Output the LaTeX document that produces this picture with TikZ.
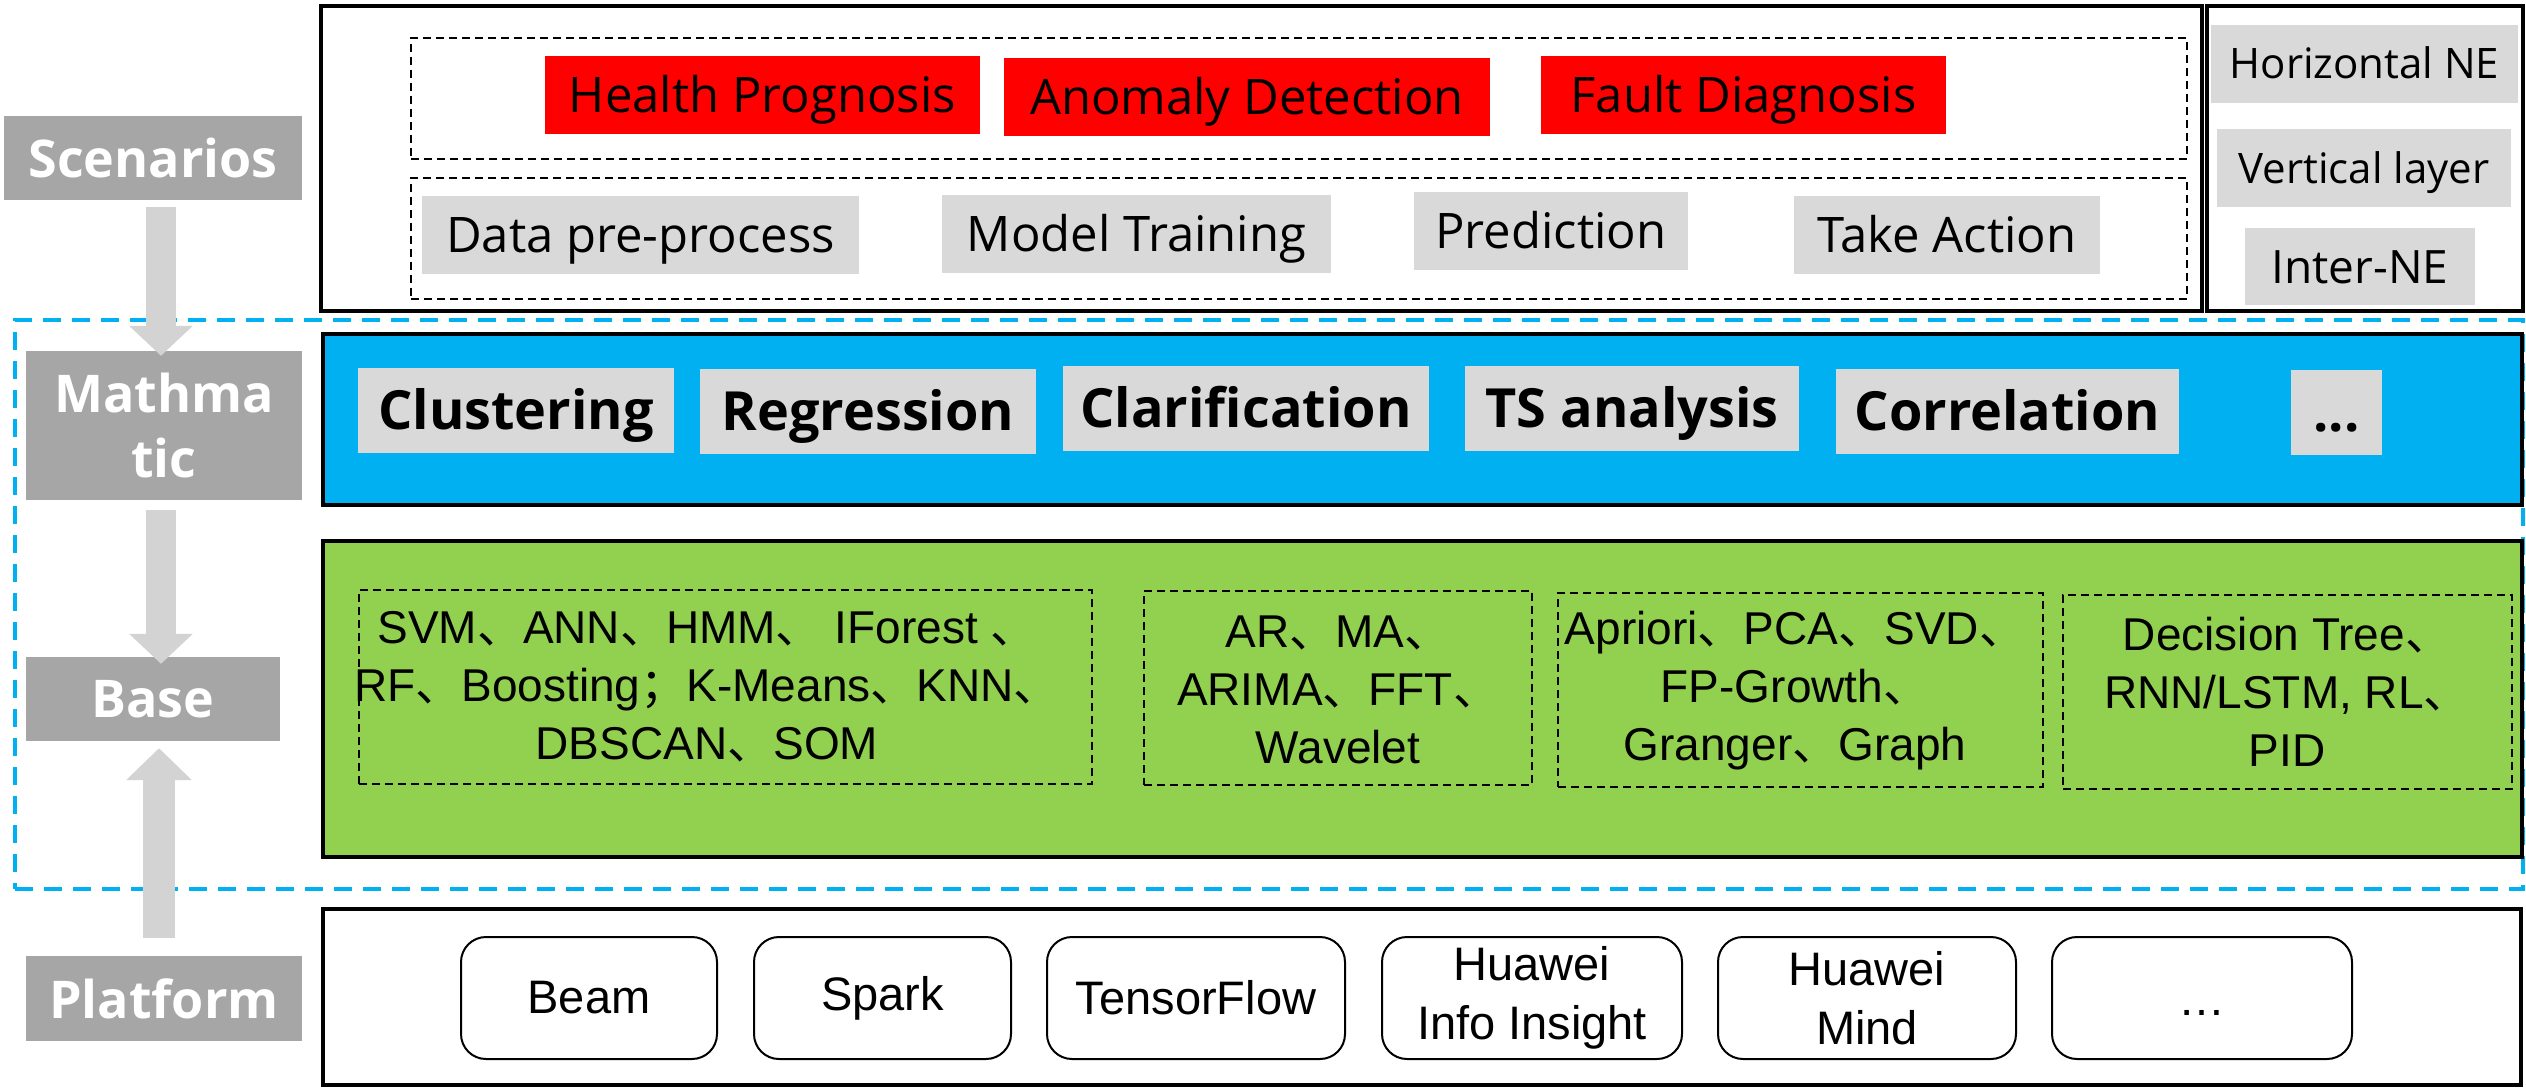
\documentclass[tikz,border=0pt]{standalone}
\usepackage{fontspec}
\setmainfont{Liberation Sans}
\newfontfamily\yahei{Open Sans}
\newfontfamily\cjkf{Noto Sans CJK SC}
\usetikzlibrary{arrows.meta}
\definecolor{redbox}{HTML}{FF0000}
\definecolor{lgray}{HTML}{D9D9D9}
\definecolor{lblgray}{HTML}{A6A6A6}
\definecolor{mlblue}{HTML}{00B0F0}
\definecolor{mlgreen}{HTML}{92D050}
\definecolor{arrowgray}{HTML}{D3D3D3}
\newcommand{\dunh}{{\cjkf 、}}
\newcommand{\fsemi}{{\cjkf ；}}
\tikzset{
  mainbox/.style={draw=black, line width=4pt, inner sep=0pt, outer sep=0pt},
  dashbox/.style={draw=black, line width=1.8pt, dash pattern=on 8pt off 5pt, inner sep=0pt, outer sep=0pt},
  redlbl/.style={fill=redbox, inner sep=0pt, minimum height=78pt, text height=35pt, text depth=0pt, font=\yahei\fontsize{49}{58}\selectfont},
  graylbl/.style={fill=lgray, inner sep=0pt, minimum height=78pt, text height=35pt, text depth=0pt, font=\yahei\fontsize{49}{58}\selectfont},
  nelbl/.style={fill=lgray, inner sep=0pt, minimum height=78pt, text height=30pt, text depth=0pt, font=\yahei\fontsize{42}{50}\selectfont},
  mathlbl/.style={fill=lgray, inner sep=0pt, minimum height=85pt, text height=38.5pt, text depth=0pt, font=\yahei\bfseries\fontsize{54}{64}\selectfont},
  sidelbl/.style={fill=lblgray, text=white, inner sep=0pt, align=center, font=\yahei\bfseries\fontsize{52}{65}\selectfont},
  platbox/.style={draw=black, line width=2pt, rounded corners=25pt, inner sep=0pt, minimum height=122pt, align=center, font=\fontsize{47}{59}\selectfont},
  algtext/.style={align=center, inner sep=0pt, font=\fontsize{46}{58}\selectfont},
  bluedash/.style={draw=mlblue, line width=4pt, dash pattern=on 18pt off 11pt, inner sep=0pt, outer sep=0pt},
  blockarrow/.style={draw=arrowgray, line width=30pt, -{Triangle[width=62pt,length=30pt]}}
}
\begin{document}
\begin{tikzpicture}[x=1pt,y=-1pt]
\useasboundingbox (0,0) rectangle (2526,1089);
% ML zone (dashed blue)
\node[bluedash, minimum width=2508pt, minimum height=569pt] (mlzone) at (1269,604.5) {};
% Scenarios layer
\node[mainbox, minimum width=1881pt, minimum height=305pt] (scenframe) at (1261.5,158.5) {};
\node[mainbox, minimum width=316pt, minimum height=305pt] (neframe) at (2365,158.5) {};
\node[dashbox, minimum width=1776pt, minimum height=121pt] (goalrow) at (1299,98.5) {};
\node[dashbox, minimum width=1776pt, minimum height=121pt] (steprow) at (1299,238.5) {};
\node[redlbl, minimum width=435pt] (hp) at (762.5,95) {Health Prognosis};
\node[redlbl, minimum width=486pt] (ad) at (1247,97) {Anomaly Detection};
\node[redlbl, minimum width=405pt] (fd) at (1743.5,95) {Fault Diagnosis};
\node[graylbl, minimum width=437pt] (dp) at (640.5,235) {Data pre-process};
\node[graylbl, minimum width=389pt] (mt) at (1136.5,234) {Model Training};
\node[graylbl, minimum width=274pt] (pr) at (1551,231) {Prediction};
\node[graylbl, minimum width=306pt] (ta) at (1947,235) {Take Action};
\node[nelbl, minimum width=307pt] (hne) at (2364.5,64) {Horizontal NE};
\node[nelbl, minimum width=294pt] (vl) at (2364,168) {Vertical layer};
\node[nelbl, minimum width=230pt, minimum height=77pt, text height=33pt, font=\yahei\fontsize{46}{54}\selectfont] (ine) at (2360,266.5) {Inter-NE};
% Mathematic layer
\node[mainbox, fill=mlblue, minimum width=2199pt, minimum height=171pt] (mathframe) at (1422.5,419.5) {};
\node[mathlbl, minimum width=316pt] (clu) at (516,410.5) {Clustering};
\node[mathlbl, minimum width=336pt] (reg) at (868,411) {Regression};
\node[mathlbl, minimum width=366pt] (cla) at (1246,408.5) {Clarification};
\node[mathlbl, minimum width=334pt] (tsa) at (1632,408.5) {TS analysis};
\node[mathlbl, minimum width=343pt] (cor) at (2007.5,411) {Correlation};
\node[mathlbl, minimum width=91pt] (mdots) at (2336.5,412) {...};
% Base layer
\node[mainbox, fill=mlgreen, minimum width=2199pt, minimum height=316pt] (baseframe) at (1422.5,699) {};
\node[dashbox, minimum width=733pt, minimum height=194pt] (alg1) at (725.5,687) {};
\node[dashbox, minimum width=388pt, minimum height=194pt] (alg2) at (1338,688) {};
\node[dashbox, minimum width=485pt, minimum height=194pt] (alg3) at (1800.5,690) {};
\node[dashbox, minimum width=449pt, minimum height=194pt] (alg4) at (2287.5,692) {};
\node[algtext] (alg1t) at (707,687) {SVM\dunh ANN\dunh HMM\dunh\ IForest \dunh\\RF\dunh Boosting\fsemi K-Means\dunh KNN\dunh\\DBSCAN\dunh SOM};
\node[algtext] (alg2t) at (1338,690) {AR\dunh MA\dunh\\ARIMA\dunh FFT\dunh\\Wavelet};
\node[algtext] (alg3t) at (1795,691) {Apriori\dunh PCA\dunh SVD\dunh\\FP-Growth\dunh\\Granger\dunh Graph};
\node[algtext] (alg4t) at (2287,692) {Decision Tree\dunh\\RNN/LSTM, RL\dunh\\PID};
% Platform layer
\node[mainbox, minimum width=2198pt, minimum height=176pt] (platframe) at (1422,997) {};
\node[platbox, minimum width=256pt] (beam) at (589,998) {Beam};
\node[platbox, minimum width=257pt] (spark) at (882.5,998) {Spark};
\node[platbox, minimum width=298pt] (tf) at (1196,998) {TensorFlow};
\node[platbox, minimum width=300pt] (hii) at (1532,998) {Huawei\\Info Insight};
\node[platbox, minimum width=298pt] (hm) at (1867,998) {Huawei\\Mind};
\node[platbox, minimum width=300pt, text height=34pt, text depth=0pt] (pdots) at (2202,998) {\ldots};
% Left labels
\node[sidelbl, minimum width=298pt, minimum height=84pt] (scen) at (153,158) {Scenarios};
\node[sidelbl, minimum width=276pt, minimum height=149pt] (math) at (164,425.5) {Mathma\\tic};
\node[sidelbl, minimum width=254pt, minimum height=84pt] (base) at (153,699) {Base};
\node[sidelbl, minimum width=276pt, minimum height=85pt] (plat) at (164,998.5) {Platform};
% Block arrows
\draw[blockarrow] ([xshift=8pt,yshift=-7pt]scen.south) -- ([xshift=-3pt,yshift=-5pt]math.north);
\draw[blockarrow] ([xshift=-3pt,yshift=-10pt]math.south) -- ([xshift=8pt,yshift=-7pt]base.north);
\draw[blockarrow, line width=32pt, -{Triangle[width=64pt,length=32pt]}] ([xshift=-5pt,yshift=18pt]plat.north) -- ([xshift=6pt,yshift=-7pt]base.south);
\end{tikzpicture}
\end{document}
